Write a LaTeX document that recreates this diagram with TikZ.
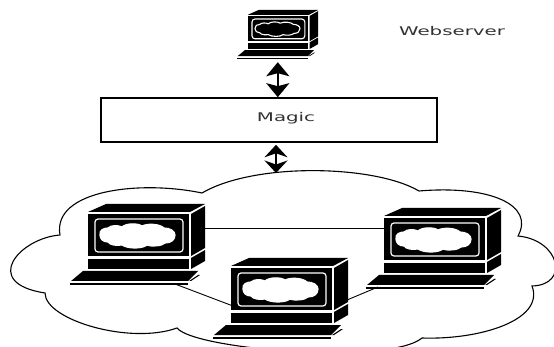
\documentclass[tikz,border=0pt]{standalone}
\usepackage{fontspec}
\setmainfont{DejaVu Sans}
\usetikzlibrary{arrows.meta}
\colorlet{scr}{white}
\tikzset{
  computer/.pic={
    \fill[black] (18,8) -- (36,0) -- (135,0) -- (120,8) -- cycle;
    \fill[black] (18,10) rectangle (119,52);
    \fill[black] (121,10) -- (135,2) -- (135,44) -- (121,52) -- cycle;
    \draw[white,line width=#1,rounded corners=3] (25,15) rectangle (113,48);
    \draw[white,line width=#1,fill=scr,line join=round]
      (30,31) .. controls (29,26) and (34,24) .. (38,24)
      .. controls (41,21) and (48,21) .. (52,23)
      .. controls (56,19) and (68,19) .. (72,22)
      .. controls (78,19) and (90,20) .. (94,24)
      .. controls (100,24) and (105,27) .. (105,31)
      .. controls (105,36) and (101,39) .. (95,39)
      .. controls (92,42) and (82,43) .. (77,41)
      .. controls (72,45) and (58,45) .. (52,41)
      .. controls (46,42) and (40,41) .. (38,38)
      .. controls (33,38) and (30,35) .. (30,31) -- cycle;
    \fill[black] (18,55) rectangle (119,65);
    \fill[black] (121,54) -- (135,46) -- (135,57) -- (121,65) -- cycle;
    \fill[black] (1,77) -- (13,67) -- (128,67) -- (118,77) -- cycle;
    \fill[black] (119,77) -- (128,71) -- (130,71) -- (121,77) -- cycle;
    \fill[black] (0,79.2) rectangle (118,80.6);
    \coordinate (-e) at (135,24);
    \coordinate (-sr) at (105,80);
    \coordinate (-w) at (19,20);
    \coordinate (-sl) at (12,79);
    \coordinate (-fw) at (20,48);
    \coordinate (-me) at (134,42);
    \coordinate (-s) at (68,87);
  },
  link/.style={line width=.9pt,black},
  flow/.style={line width=2pt,black,{Stealth[length=14,width=23,inset=3]}-{Stealth[length=14,width=23,inset=3]}},
  flowsmall/.style={line width=1.6pt,black,{Stealth[length=12.5,width=23,inset=4]}-{Stealth[length=12.5,width=23,inset=4]}},
  cloudline/.style={line width=1.1pt,black,line join=miter},
  label/.style={inner sep=0pt,text=black!80},
  block/.style={draw=black,line width=1.6pt,fill=white,inner sep=0pt,minimum width=336pt,minimum height=44pt}
}
\begin{document}
\begin{tikzpicture}[x=1pt,y=-1pt]
\useasboundingbox (0,0) rectangle (554,347);
\clip (0,0) rectangle (554,347);
\fill[white] (0,0) rectangle (554,347);
% cloud
\draw[cloudline] (202,193)
  .. controls (140,180) and (52,190) .. (60,235)
  .. controls (20,238) and (-20,283) .. (45,293)
  .. controls (45,320) and (130,345) .. (177,328)
  .. controls (195,350) and (390,365) .. (422,338)
  .. controls (480,340) and (545,320) .. (532,286)
  .. controls (570,285) and (560,240) .. (518,236)
  .. controls (535,205) and (490,185) .. (419,191)
  .. controls (375,165) and (255,162) .. (202,193) -- cycle;
% computers
\begin{scope}
\colorlet{scr}{black}
\pic (T) at (237,10) [scale=.6] {computer=1.1pt};
\end{scope}
\pic (L) at (70,204) {computer=1.2pt};
\pic (M) at (213,258) {computer=1.2pt};
\pic (R) at (366,208) {computer=1.2pt};
% block and text
\node[block] (magic) at (269,120) {};
\node[label] (magictext) at (286,118) {\fontsize{12}{12}\selectfont\scalebox{1.65}[1]{Magic}};
\node[label] (web) at (452,31) {\fontsize{12}{12}\selectfont\scalebox{1.65}[1]{Webserver}};
\coordinate (cloudtop) at (276,173);
% connectors
\draw[link] (L-e) -- (R-w);
\draw[link] (L-sr) -- (M-fw);
\draw[link] (M-me) -- (R-sl);
\draw[flow] (T-s) -- (T-s |- magic.north);
\draw[flowsmall,shorten <=2pt] (magic.south -| cloudtop) -- (cloudtop);
\end{tikzpicture}
\end{document}
